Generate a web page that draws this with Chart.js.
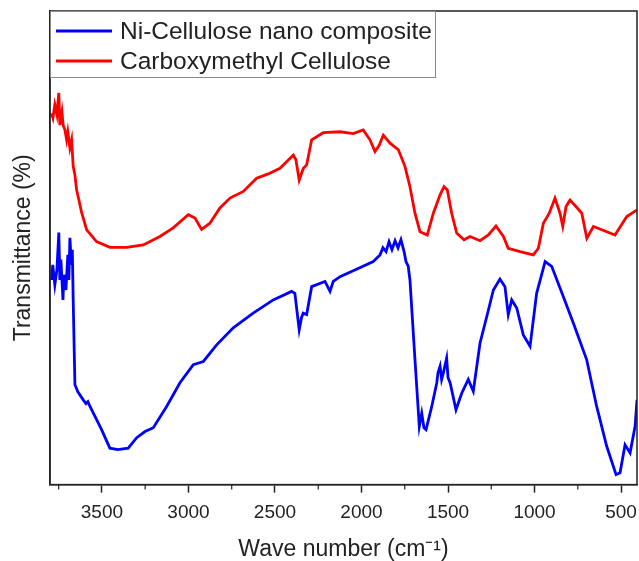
<!DOCTYPE html>
<html>
<head>
<meta charset="utf-8">
<title>FTIR spectra</title>
<script src="https://cdn.jsdelivr.net/npm/chart.js@4.4.1/dist/chart.umd.min.js"></script>
<style>
  html, body { margin: 0; padding: 0; background: #fff; }
</style>
</head>
<body>
<canvas id="ftir" width="639" height="561"></canvas>
<script>
// ─────────────────────────────────────────────
// FTIR spectra — Ni-cellulose composite vs. CMC
// ─────────────────────────────────────────────

const FONT = "'Liberation Sans', Arial, sans-serif";
const INK  = "#222";

// x axis marks (cm-1): labelled every 500, short marks in between
const MAJOR_TICKS = [3500, 3000, 2500, 2000, 1500, 1000, 500];
const MINOR_TICKS = [3750, 3250, 2750, 2250, 1750, 1250, 750];

// Ni-Cellulose nano composite
const NI_WAVE = [3791, 3784, 3772, 3760, 3749, 3743, 3737, 3725, 3720, 3708, 3697, 3691, 3685, 3676, 3671, 3666,
    3656, 3639, 3608, 3592, 3581, 3569, 3540, 3502, 3454, 3408, 3348, 3299, 3251, 3203, 3126, 3049, 2972, 2914,
    2837, 2741, 2626, 2510, 2404, 2385, 2360, 2347, 2337, 2317, 2288, 2211, 2182, 2163, 2124, 2032, 1932,
    1893, 1876, 1858, 1841, 1824, 1806, 1789, 1772, 1754, 1743, 1730, 1720, 1691, 1666, 1652, 1639, 1627,
    1594, 1565, 1558, 1546, 1537, 1527, 1508, 1500, 1488, 1454, 1421, 1383, 1354, 1315, 1276, 1238, 1200,
    1171, 1152, 1132, 1103, 1065, 1026, 988, 939, 901, 834, 776, 699, 641, 583, 529, 506, 477, 448, 419, 408];
const NI_T = [43.2, 46.4, 42.2, 45.4, 53.2, 43.2, 47.5, 39.0, 44.3, 41.1, 48.5, 43.2, 52.1, 46.4, 49.6, 39.0,
    21.1, 19.6, 17.9, 17.1, 17.5, 16.5, 14.4, 11.6, 7.7, 7.4, 7.7, 9.9, 11.2, 12.0, 16.5, 21.5, 25.3, 26.0,
    29.5, 33.1, 36.2, 39.0, 40.8, 40.4, 32.7, 35.2, 36.2, 35.9, 41.8, 42.9, 40.8, 42.9, 43.9, 45.4, 47.1,
    48.5, 50.0, 49.2, 51.3, 49.6, 51.5, 50.0, 51.7, 49.2, 47.1, 46.1, 43.2, 26.4, 12.3, 15.1, 12.0, 11.6,
    16.5, 21.5, 23.6, 25.0, 22.2, 23.6, 26.7, 22.6, 21.5, 15.8, 19.3, 22.2, 19.7, 29.9, 35.5, 41.1, 43.4,
    41.8, 35.9, 39.0, 37.3, 31.6, 29.2, 40.4, 47.1, 46.1, 39.7, 34.1, 26.4, 16.5, 8.1, 2.1, 2.5, 8.4, 6.7, 12.3, 17.9];

// Carboxymethyl Cellulose
const CMC_WAVE = [3791, 3783, 3772, 3760, 3749, 3743, 3731, 3724, 3714, 3704, 3697, 3685, 3675, 3666, 3656,
    3646, 3633, 3617, 3588, 3531, 3454, 3357, 3261, 3165, 3088, 3001, 2962, 2924, 2876, 2818, 2760, 2683,
    2606, 2539, 2471, 2394, 2379, 2360, 2336, 2317, 2288, 2221, 2124, 2048, 1990, 1951, 1922, 1897, 1874,
    1835, 1787, 1749, 1720, 1691, 1662, 1620, 1585, 1546, 1523, 1504, 1479, 1450, 1408, 1373, 1315, 1267,
    1223, 1180, 1152, 1084, 1007, 978, 949, 915, 882, 853, 837, 818, 795, 753, 727, 698, 660, 612, 535, 467, 408];
const CMC_T = [78.4, 77.4, 80.2, 78.1, 82.7, 75.9, 78.7, 75.9, 74.9, 72.8, 74.5, 71.1, 72.8, 67.2, 65.4,
    62.2, 60.1, 57.4, 53.8, 51.3, 50.1, 50.1, 50.6, 52.4, 54.2, 57.0, 56.3, 53.9, 55.2, 58.4, 60.5, 61.9,
    64.7, 65.6, 66.8, 69.6, 68.6, 64.3, 66.8, 67.5, 72.8, 74.3, 74.5, 74.1, 74.9, 72.8, 70.3, 71.7, 73.8,
    72.1, 70.7, 67.2, 62.9, 57.3, 53.4, 52.7, 57.3, 61.2, 62.9, 62.2, 57.3, 53.1, 51.7, 52.4, 51.5, 52.7,
    54.6, 52.4, 49.9, 49.2, 48.5, 49.9, 55.2, 57.3, 60.5, 57.3, 54.5, 58.7, 60.1, 58.4, 57.3, 52.0, 54.5, 53.8, 52.7, 56.6, 58.0];

const toPoints = (xs, ys) => xs.map((x, i) => ({ x, y: ys[i] }));

// ═══════════════════════════════════════════════
// Frame box, minor x marks and the in-plot legend
// ═══════════════════════════════════════════════
const frameAndLegend = {
    id: "frameAndLegend",
    afterDatasetsDraw(chart) {
        const { ctx, chartArea: a, scales } = chart;
        ctx.save();

        ctx.strokeStyle = INK;
        ctx.lineWidth = 1.5;
        ctx.strokeRect(a.left, a.top, a.right - a.left, a.bottom - a.top);

        ctx.lineWidth = 1.2;
        MINOR_TICKS.forEach(v => {
            const px = scales.x.getPixelForValue(v);
            ctx.beginPath();
            ctx.moveTo(px, a.bottom);
            ctx.lineTo(px, a.bottom + 5);
            ctx.stroke();
        });

        // legend box
        const bx = a.left, by = a.top, bw = 386, bh = 67;
        ctx.fillStyle = "#fff";
        ctx.fillRect(bx, by, bw, bh);
        ctx.strokeStyle = "#8a8a8a";
        ctx.lineWidth = 1;
        ctx.strokeRect(bx + 0.5, by + 0.5, bw - 1, bh - 1);

        ctx.font = "24.5px " + FONT;
        ctx.textBaseline = "middle";
        chart.data.datasets.forEach((ds, i) => {
            const y = by + 20 + i * 30;
            ctx.strokeStyle = ds.borderColor;
            ctx.lineWidth = 3;
            ctx.beginPath();
            ctx.moveTo(bx + 6, y);
            ctx.lineTo(bx + 62, y);
            ctx.stroke();
            ctx.fillStyle = INK;
            ctx.fillText(ds.label, bx + 70, y + 1);
        });

        ctx.restore();
    }
};

new Chart(document.getElementById("ftir"), {
    type: "line",
    data: {
        datasets: [
            {
                label: "Ni-Cellulose nano composite",
                data: toPoints(NI_WAVE, NI_T),
                borderColor: "#0000ff",
                borderWidth: 2.8,
                pointRadius: 0,
                tension: 0,
            },
            {
                label: "Carboxymethyl Cellulose",
                data: toPoints(CMC_WAVE, CMC_T),
                borderColor: "#ff0000",
                borderWidth: 2.8,
                pointRadius: 0,
                tension: 0,
            }
        ]
    },
    options: {
        responsive: false,
        animation: false,
        devicePixelRatio: 1,
        layout: { padding: { top: 11, right: 2, bottom: 0, left: 0 } },
        plugins: {
            legend: { display: false },
            tooltip: { enabled: false }
        },
        scales: {
            x: {
                type: "linear",
                reverse: true,
                min: 408,
                max: 3800,
                afterBuildTicks: axis => { axis.ticks = MAJOR_TICKS.map(v => ({ value: v })); },
                // labels already fit inside the canvas, no extra side padding wanted
                afterFit: axis => { axis.paddingLeft = 0; axis.paddingRight = 0; },
                grid: { drawOnChartArea: false, tickLength: 8, tickWidth: 1.5, tickColor: INK },
                border: { color: INK, width: 1.5 },
                ticks: {
                    color: INK,
                    padding: 9,
                    maxRotation: 0,
                    font: { family: FONT, size: 19 },
                    callback: v => String(v)
                },
                title: {
                    display: true,
                    text: "Wave number (cm⁻¹)",
                    color: INK,
                    font: { family: FONT, size: 23 },
                    padding: { top: 2, bottom: -2 }
                }
            },
            y: {
                min: 0,
                max: 100,
                grid: { drawOnChartArea: false, drawTicks: false },
                border: { color: INK, width: 1.5 },
                ticks: { display: false },
                title: {
                    display: true,
                    text: "Transmittance (%)",
                    color: INK,
                    font: { family: FONT, size: 23 },
                    padding: { top: 10, bottom: 12.4 }
                }
            }
        }
    },
    plugins: [frameAndLegend]
});
</script>
</body>
</html>
